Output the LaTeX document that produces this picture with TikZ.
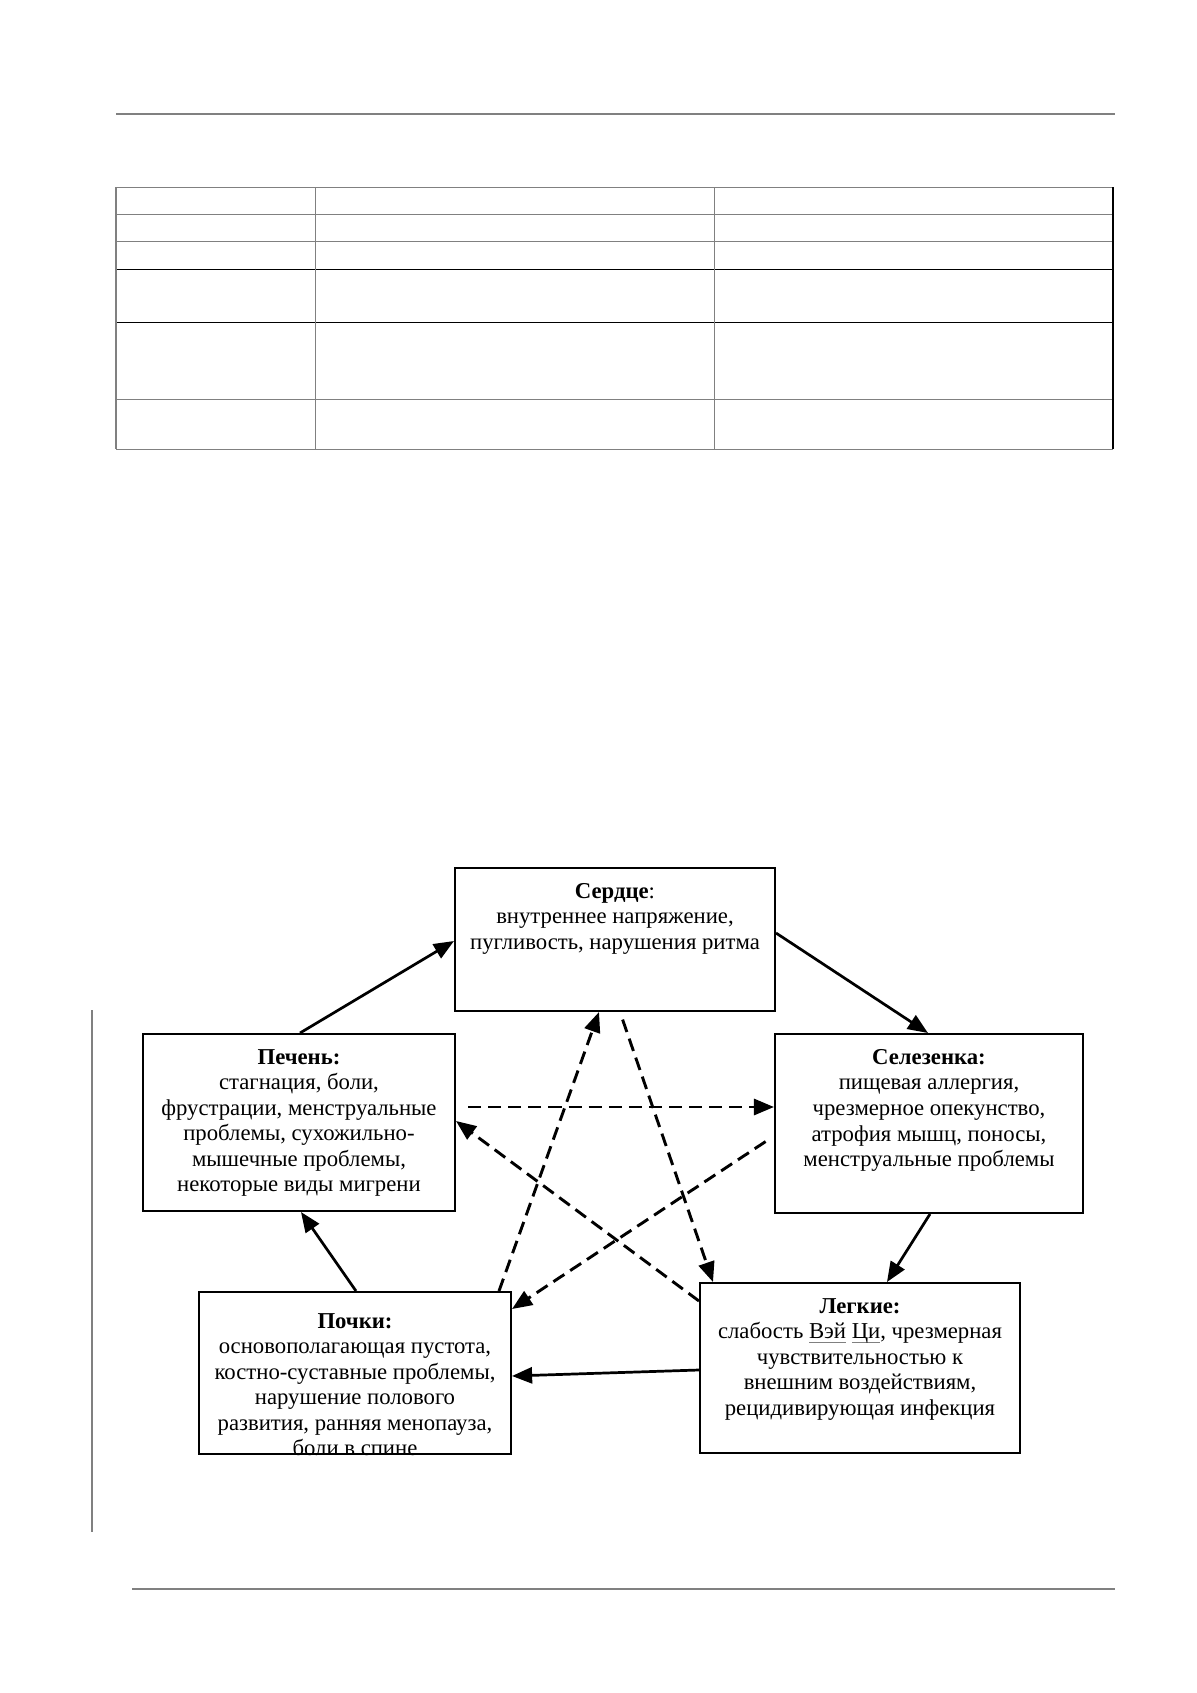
\documentclass[tikz,border=0pt]{standalone}
\usepackage{fontspec}
\setmainfont{Liberation Serif}
\usepackage{xcolor}
\usepackage{tikz}
\usetikzlibrary{arrows.meta,calc,fit}

% grey spell-check line under a word
\newlength{\spellwd}
\newcommand{\spellmark}[1]{\settowidth{\spellwd}{#1}\rlap{\textcolor{gray}{\rule[-0.4ex]{\spellwd}{0.4pt}}}#1}

\begin{document}
\begin{tikzpicture}[x=0.4975pt, y=-0.4975pt,
    organ/.style={draw, line width=1pt, inner sep=0pt},
    organtext/.style={anchor=north, align=center, inner sep=0pt, font=\fontsize{11.3}{12.7}\selectfont},
    cycle/.style={line width=1.35pt, -{Triangle[length=10pt, width=8pt]}},
    control/.style={line width=1.45pt, dash pattern=on 6.5pt off 3.5pt, -{Triangle[length=10pt, width=8pt]}},
    pagerule/.style={draw=gray, line width=0.75pt},
    cellrule/.style={draw=gray, line width=0.5pt}]
\useasboundingbox (0,0) rectangle (1197,1693);

% page rules
\draw[pagerule] (116,114) -- (1115,114);
\draw[pagerule] (132,1589) -- (1115,1589);
\draw[pagerule] (92,1010) -- (92,1532);

% empty table
\foreach \y in {187,214,241,399,449}
    \draw[cellrule] (116,\y) -- (1113,\y);
\foreach \y in {269,322}
    \draw[line width=0.5pt] (116,\y) -- (1113,\y);
\foreach \x in {116,315,714}
    \draw[cellrule] (\x,187) -- (\x,449);
\draw[line width=0.6pt] (1113,187) -- (1113,449);

% organ boxes
\node (serdce) [organ, fit={(455,868) (775,1011)}] {};
\node (pechen) [organ, fit={(143,1034) (455,1211)}] {};
\node (selez) [organ, fit={(775,1034) (1083,1213)}] {};
\node (pochki) [organ, fit={(199,1292) (511,1454)}] {};
\node (legkie) [organ, fit={(700,1283) (1020,1453)}] {};

% texts
\node (serdcetext) [organtext] at ($(serdce.north)+(0,16)$) {\textbf{Сердце}:\\внутреннее напряжение,\\пугливость, нарушения ритма};
\node (pechentext) [organtext] at ($(pechen.north)+(0,16)$) {\textbf{Печень:}\\стагнация, боли,\\фрустрации, менструальные\\проблемы, сухожильно-\\мышечные проблемы,\\некоторые виды мигрени};
\node (seleztext) [organtext] at ($(selez.north)+(0,16)$) {\textbf{Селезенка:}\\пищевая аллергия,\\чрезмерное опекунство,\\атрофия мышц, поносы,\\менструальные проблемы};
\begin{scope}
    \clip (pochki.south west) rectangle (pochki.north east);
    \node (pochkitext) [organtext] at ($(pochki.north)+(0,22)$) {\textbf{Почки:}\\основополагающая пустота,\\костно-суставные проблемы,\\нарушение полового\\развития, ранняя менопауза,\\боли в спине};
\end{scope}
\node (legkietext) [organtext] at ($(legkie.north)+(0,16)$) {\textbf{Легкие:}\\слабость \spellmark{Вэй} \spellmark{Ци}, чрезмерная\\чувствительностью к\\внешним воздействиям,\\рецидивирующая инфекция};

% generating cycle
\draw [cycle] ($(pechen.north west)+(158,0)$) -- ($(serdce.north west)+(0,74)$);
\draw [cycle] ($(serdce.north east)+(0,66)$) -- ($(selez.north west)+(154,0)$);
\draw [cycle] ($(selez.south west)+(156,0)$) -- ($(legkie.north west)+(188,0)$);
\draw [cycle] ($(legkie.north west)+(0,88)$) -- ($(pochki.north east)+(0,85)$);
\draw [cycle] ($(pochki.north west)+(158,0)$) -- ($(pechen.south west)+(159,0)$);

% control star
\draw [control, shorten <=6] ($(pechen.north east)+(0,74)$) -- ($(selez.north west)+(0,74)$);
\draw [control, shorten <=5] ($(selez.north west)+(0,103)$) -- ($(pochki.north east)+(0,18)$);
\draw [control] ($(legkie.north west)+(0,19)$) -- ($(pechen.north east)+(0,88)$);
\draw [control] ($(pochki.north west)+(301,0)$) -- ($(serdce.south west)+(145,0)$);
\draw [control, shorten <=4] ($(serdce.south west)+(166,0)$) -- ($(legkie.north west)+(14,0)$);
\end{tikzpicture}
\end{document}
